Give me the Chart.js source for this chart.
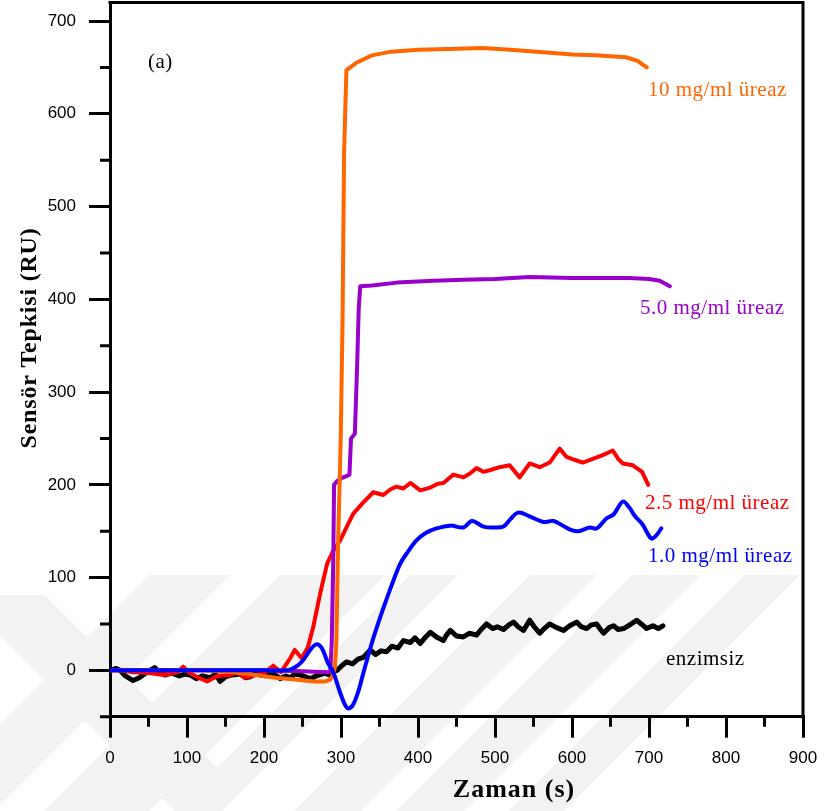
<!DOCTYPE html>
<html>
<head>
<meta charset="utf-8">
<script src="https://cdn.jsdelivr.net/npm/chart.js@4/dist/chart.umd.min.js"></script>
<style>
  html, body { margin: 0; padding: 0; background: #fff; }
  #wrap { width: 826px; height: 811px; }
</style>
</head>
<body>
<div id="wrap"><canvas id="chart" width="826" height="811"></canvas></div>
<script>
// tick values
const xTicks = [0, 100, 200, 300, 400, 500, 600, 700, 800, 900];
const xMinor = [50, 150, 250, 350, 450, 550, 650, 750, 850];
const yTicks = [0, 100, 200, 300, 400, 500, 600, 700];
const yMinor = [-50, 50, 150, 250, 350, 450, 550, 650];

// series, [time (s), response (RU)]
const ureaz10 = [[0,0],[20,0],[60,0],[120,0],[160,-2],[190,-5],[215,-8],[240,-10],[265,-12],[280,-12],
  [286,-10],[290,-4],[292,3],[294,30],[296,129],[299.6,248],[302,377],[304,558],[307,647],[320,655],
  [340,663],[365,667],[400,669],[440,670],[484,671],[520,669],[567,666],[600,664],[630,663],[650,662],
  [670,661],[685,657],[697,650]];

const ureaz5 = [[0,0],[100,0],[200,0],[250,-1],[280,-2],[286,-2],[288,30],[290,120],[291,200],[295,204],
  [300,207],[306,209],[311,211],[313,250],[318,255],[321,330],[323,390],[325,414],[340,415],[373,418],
  [420,420],[459,421],[500,422],[545,424],[600,423],[650,423],[675,423],[700,422],[714,420],[727,414]];

const ureaz25 = [[0,0],[15,0],[30,-2],[50,-3],[70,-5],[88,-2],[95,4],[102,-2],[115,-8],[126,-12],
  [140,-6],[156,-5],[165,-2],[175,-8],[190,-5],[200,-3],[212,5],[222,-2],[230,8],[234,13],
  [240,22],[249,13],[257,25],[264,47],[273,83],[282,115],[290,129],[299,140],[307,154],[316,169],
  [329,181],[342,192],[355,189],[364,195],[372,198],[381,196],[390,202],[403,194],[416,197],[425,201],
  [433,202],[446,211],[459,208],[467,212],[476,218],[485,214],[494,216],[506,219],[519,221],[532,208],
  [545,223],[558,219],[571,224],[584,239],[593,230],[603,227],[614,224],[627,228],[640,232],[653,237],
  [660,228],[666,223],[679,221],[691,214],[699,200]];

const ureaz1 = [[0,0],[100,0],[200,0],[230,0],[240,3],[250,10],[260,22],[268,28],[275,24],[283,8],
  [290,-2],[298,-22],[304,-35],[309,-41],[315,-38],[322,-24],[328,-6],[334,12],[341,32],[348,50],
  [355,67],[365,90],[377,115],[387,128],[398,140],[410,148],[424,153],[442,156],[459,154],[470,161],
  [485,155],[498,154],[511,155],[520,163],[530,170],[545,166],[563,160],[576,161],[590,155],[597,152],
  [608,150],[623,154],[632,153],[645,164],[654,168],[666,182],[674,176],[682,166],[691,158],[703,142],
  [709,145],[716,153]];

const enzimsiz = [[0,0],[8,2],[13,0],[20,-6],[30,-11],[38,-8],[43,-5],[50,-1],[58,3],[64,-2],
  [71,-5],[80,-3],[90,-6],[97,-4],[104,-5],[112,-9],[120,-6],[130,-8],[137,-4],[143,-12],
  [150,-7],[158,-5],[169,-4],[176,-8],[182,-7],[189,-3],[195,-5],[202,-6],[208,-3],[215,-5],
  [221,-9],[228,-6],[234,-8],[240,-4],[247,-5],[254,-7],[260,-9],[268,-6],[279,-3],[285,-5],
  [290,-1],[295,0],[301,5],[307,9],[315,7],[322,12],[329,14],[338,22],[345,17],[352,21],
  [359,20],[366,26],[374,24],[381,32],[390,30],[396,35],[403,29],[410,36],[416,41],[424,36],
  [433,32],[437,38],[442,43],[450,37],[459,36],[467,40],[476,38],[482,44],[489,50],[497,45],
  [503,47],[511,44],[518,49],[524,52],[530,47],[537,43],[545,54],[551,47],[558,40],[564,45],
  [571,50],[580,46],[589,43],[597,48],[606,52],[612,47],[619,45],[625,49],[632,50],[637,44],
  [641,40],[648,46],[654,48],[660,44],[667,45],[675,49],[684,54],[690,50],[697,45],[705,48],
  [712,45],[718,48]];

const toPts = arr => arr.map(p => ({ x: p[0], y: p[1] }));

// faint diagonal watermark behind the plot
const watermarkPlugin = {
  id: 'watermark',
  beforeDraw(chart) {
    const ctx = chart.ctx;
    ctx.save();
    ctx.fillStyle = '#f2f2f2';
    const top = 575, bot = 811, d = bot - top;
    [[150, 230], [280, 385], [410, 458], [530, 597], [632, 700], [745, 800]].forEach(s => {
      ctx.beginPath();
      ctx.moveTo(s[0], top);
      ctx.lineTo(s[1], top);
      ctx.lineTo(s[1] - d, bot);
      ctx.lineTo(s[0] - d, bot);
      ctx.closePath();
      ctx.fill();
    });
    ctx.beginPath();
    ctx.moveTo(0, 595);
    ctx.lineTo(45, 595);
    ctx.lineTo(220, 770);
    ctx.lineTo(220, 811);
    ctx.lineTo(175, 811);
    ctx.lineTo(0, 636);
    ctx.closePath();
    ctx.fill();
    ctx.restore();
  }
};

// frame, minor ticks, labels and titles
const decorPlugin = {
  id: 'decor',
  afterDraw(chart) {
    const ctx = chart.ctx;
    const a = chart.chartArea;
    const xs = chart.scales.x, ys = chart.scales.y;
    ctx.save();
    ctx.strokeStyle = '#000';
    ctx.lineWidth = 3;
    ctx.beginPath();
    ctx.moveTo(a.left - 1.5, a.top);
    ctx.lineTo(a.right, a.top);
    ctx.lineTo(a.right, a.bottom + 1.5);
    ctx.stroke();
    ctx.beginPath();
    xMinor.forEach(v => {
      const px = xs.getPixelForValue(v);
      ctx.moveTo(px, a.bottom);
      ctx.lineTo(px, a.bottom + 10);
    });
    yMinor.forEach(v => {
      const py = ys.getPixelForValue(v);
      ctx.moveTo(a.left, py);
      ctx.lineTo(a.left - 10, py);
    });
    ctx.stroke();

    ctx.textBaseline = 'alphabetic';
    ctx.textAlign = 'left';
    ctx.font = '21px "Liberation Serif"';
    ctx.letterSpacing = '0.5px';
    ctx.fillStyle = '#000';
    ctx.fillText('(a)', 148, 68);
    ctx.fillStyle = '#ff6600';
    ctx.fillText('10 mg/ml üreaz', 648, 96);
    ctx.fillStyle = '#9900cc';
    ctx.fillText('5.0 mg/ml üreaz', 640, 314);
    ctx.fillStyle = '#ff0000';
    ctx.fillText('2.5 mg/ml üreaz', 645, 509);
    ctx.fillStyle = '#0000ff';
    ctx.fillText('1.0 mg/ml üreaz', 648, 562);
    ctx.fillStyle = '#000';
    ctx.fillText('enzimsiz', 666, 665);

    ctx.font = 'bold 26px "Liberation Serif"';
    ctx.letterSpacing = '1px';
    ctx.textAlign = 'center';
    ctx.fillText('Zaman (s)', 514, 797);
    ctx.translate(36, 338);
    ctx.rotate(-Math.PI / 2);
    ctx.font = 'bold 24px "Liberation Serif"';
    ctx.letterSpacing = '0.8px';
    ctx.fillText('Sensör Tepkisi (RU)', 0, 0);
    ctx.restore();
  }
};

const axisGrid = { display: true, drawOnChartArea: false, drawTicks: true, tickLength: 21, lineWidth: 3, color: '#000' };
const tickFont = { family: '"Liberation Sans", Arial, sans-serif', size: 17 };

new Chart(document.getElementById('chart'), {
  type: 'line',
  data: {
    datasets: [
      { label: '1.0 mg/ml üreaz', data: toPts(ureaz1), borderColor: '#0000ff', tension: 0.35 },
      { label: '10 mg/ml üreaz', data: toPts(ureaz10), borderColor: '#ff6600', tension: 0 },
      { label: '5.0 mg/ml üreaz', data: toPts(ureaz5), borderColor: '#9900cc', tension: 0 },
      { label: '2.5 mg/ml üreaz', data: toPts(ureaz25), borderColor: '#ff0000', tension: 0 },
      { label: 'enzimsiz', data: toPts(enzimsiz), borderColor: '#000000', borderWidth: 5, tension: 0 }
    ]
  },
  options: {
    responsive: false,
    animation: false,
    devicePixelRatio: 1,
    layout: { padding: { left: 0, top: 2.5, right: 23, bottom: 0 } },
    elements: {
      point: { radius: 0 },
      line: { borderWidth: 4, borderJoinStyle: 'round', borderCapStyle: 'round' }
    },
    plugins: { legend: { display: false }, tooltip: { enabled: false } },
    scales: {
      x: {
        type: 'linear', min: 0, max: 900,
        afterBuildTicks: s => { s.ticks = xTicks.map(v => ({ value: v })); },
        afterFit: s => { s.height = 94.3; s.paddingLeft = 0; s.paddingRight = 0; },
        grid: axisGrid,
        border: { display: true, color: '#000', width: 3 },
        ticks: { color: '#000', font: tickFont, padding: 10, maxRotation: 0, autoSkip: false }
      },
      y: {
        type: 'linear', min: -50, max: 720,
        afterBuildTicks: s => { s.ticks = yTicks.map(v => ({ value: v })); },
        afterFit: s => { s.width = 110; s.paddingTop = 0; s.paddingBottom = 0; },
        grid: axisGrid,
        border: { display: true, color: '#000', width: 3 },
        ticks: { color: '#000', font: tickFont, padding: 13, autoSkip: false }
      }
    }
  },
  plugins: [watermarkPlugin, decorPlugin]
});
</script>
</body>
</html>
